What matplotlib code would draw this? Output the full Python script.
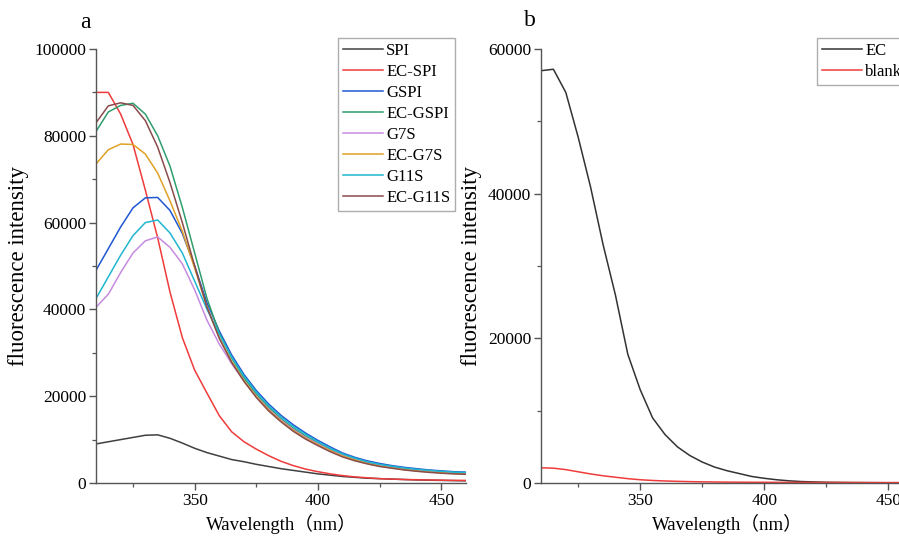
import matplotlib
matplotlib.use("Agg")
from matplotlib import pyplot as plt
from matplotlib.ticker import MultipleLocator
import numpy as np

plt.rcParams['font.family'] = ['Liberation Serif', 'Noto Sans CJK SC', 'DejaVu Sans']
plt.rcParams['axes.linewidth'] = 1.0

wavelength = np.arange(310, 461, 5)

# panel a
spi = [9000, 9500, 10000, 10500, 11000, 11100, 10300, 9200, 8000, 7000, 6200,
       5400, 4900, 4300, 3800, 3300, 2900, 2500, 2100, 1800, 1500, 1300, 1100,
       1000, 900, 800, 700, 650, 600, 550, 500]
ec_spi = [90000, 90000, 85000, 78000, 67500, 56500, 44000, 33500, 26000, 20700,
          15500, 11800, 9500, 7800, 6300, 5000, 4000, 3200, 2600, 2100, 1700,
          1400, 1200, 1000, 900, 800, 750, 700, 650, 600, 600]
gspi = [49000, 54000, 59000, 63400, 65700, 65800, 62800, 57500, 50000, 41500,
        35000, 29500, 25000, 21300, 18200, 15600, 13400, 11500, 9800, 8300,
        6900, 5900, 5100, 4500, 4000, 3600, 3300, 3000, 2800, 2600, 2500]
ec_gspi = [81000, 85500, 87000, 87500, 85000, 80000, 73000, 63500, 53000, 42500,
           34500, 28800, 24200, 20500, 17400, 14800, 12600, 10800, 9200, 7700,
           6400, 5500, 4700, 4100, 3700, 3300, 3000, 2750, 2550, 2400, 2250]
g7s = [40500, 43500, 48500, 53000, 55800, 56700, 54300, 50500, 44500, 37500,
       32000, 27500, 23500, 20000, 17000, 14500, 12300, 10500, 9000, 7500,
       6300, 5400, 4600, 4000, 3600, 3200, 2900, 2650, 2450, 2300, 2150]
ec_g7s = [73500, 76800, 78100, 78000, 75800, 71400, 65000, 58000, 49500, 40500,
          33500, 28000, 23600, 19900, 16800, 14300, 12100, 10300, 8800, 7400,
          6200, 5300, 4500, 3900, 3500, 3100, 2800, 2550, 2350, 2200, 2050]
g11s = [42500, 47500, 52500, 57000, 60000, 60600, 57600, 53000, 46500, 40000,
        34300, 29000, 24600, 20900, 17800, 15200, 13000, 11200, 9500, 8000,
        6700, 5700, 4900, 4300, 3850, 3450, 3150, 2900, 2700, 2500, 2400]
ec_g11s = [83000, 86900, 87600, 87000, 83500, 77400, 69200, 60000, 50000, 40500,
           33300, 27800, 23400, 19700, 16600, 14100, 11900, 10100, 8600, 7200,
           6000, 5100, 4400, 3800, 3400, 3000, 2700, 2450, 2250, 2100, 2000]

# panel b
ec = [57000, 57200, 54000, 47800, 40900, 33000, 26000, 17800, 12900, 9000, 6700,
      5000, 3800, 2900, 2200, 1700, 1300, 900, 650, 450, 300, 200, 150, 100, 80,
      60, 50, 40, 30, 30, 20]
blank = [2100, 2050, 1850, 1550, 1250, 1000, 800, 600, 450, 350, 280, 230, 190,
         160, 140, 120, 110, 100, 95, 90, 85, 80, 75, 72, 70, 68, 66, 64, 62, 61, 60]

series_a = [("SPI", spi, "#404040"), ("EC-SPI", ec_spi, "#ef3b3b"),
            ("GSPI", gspi, "#1f57d2"), ("EC-GSPI", ec_gspi, "#2f9e6e"),
            ("G7S", g7s, "#c68be0"), ("EC-G7S", ec_g7s, "#e0a125"),
            ("G11S", g11s, "#1fb6cf"), ("EC-G11S", ec_g11s, "#8a4b4b")]
series_b = [("EC", ec, "#333333"), ("blank", blank, "#ef3b3b")]

fig = plt.figure(figsize=(8.99, 5.38), dpi=100)
ax1 = fig.add_axes([96/899, 1-483/538, 370/899, 434/538])
ax2 = fig.add_axes([541/899, 1-483/538, 372/899, 434/538])

for name, vals, col in series_a:
    ax1.plot(wavelength, vals, color=col, lw=1.1, label=name)
for name, vals, col in series_b:
    ax2.plot(wavelength, vals, color=col, lw=1.1, label=name)

for ax, ymax, ystep in [(ax1, 100000, 20000), (ax2, 60000, 20000)]:
    ax.set_xlim(310, 460)
    ax.set_ylim(0, ymax)
    ax.xaxis.set_major_locator(MultipleLocator(50))
    ax.xaxis.set_minor_locator(MultipleLocator(25))
    ax.yaxis.set_major_locator(MultipleLocator(ystep))
    ax.yaxis.set_minor_locator(MultipleLocator(ystep/2))
    ax.spines['top'].set_visible(False)
    ax.spines['right'].set_visible(False)
    for s in ['left', 'bottom']:
        ax.spines[s].set_color('#555555')
    ax.tick_params(which='major', direction='out', length=5, width=1.0,
                   color='#555555', labelsize=12.5, pad=2)
    ax.tick_params(which='minor', direction='out', length=3, width=0.9,
                   color='#555555')
    ax.set_xlabel('Wavelength（nm）', fontsize=13.5, labelpad=4)
    ax.set_ylabel('fluorescence intensity', fontsize=16.5, labelpad=4)

ax1.legend(loc='upper left', bbox_to_anchor=(338/899, 1-38/538),
           bbox_transform=fig.transFigure, fontsize=12, frameon=True,
           fancybox=False, edgecolor='#999999', borderaxespad=0,
           labelspacing=0.3, handlelength=2.4, handletextpad=0.2,
           borderpad=0.3)
ax2.legend(loc='upper left', bbox_to_anchor=(817/899, 1-38/538),
           bbox_transform=fig.transFigure, fontsize=12, frameon=True,
           fancybox=False, edgecolor='#999999', borderaxespad=0,
           labelspacing=0.3, handlelength=2.4, handletextpad=0.2,
           borderpad=0.3)

fig.text(85/899, 1-22/538, 'a', fontsize=17, ha='center', va='center')
fig.text(530/899, 1-20/538, 'b', fontsize=17, ha='center', va='center')

fig.savefig('out.png', dpi=100)
